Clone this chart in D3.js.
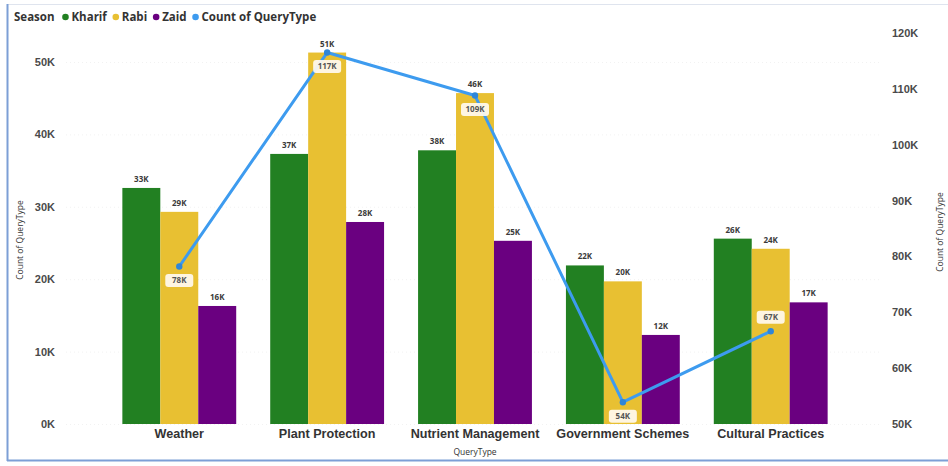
<!DOCTYPE html>
<html>
<head>
<meta charset="utf-8">
<script src="https://cdn.jsdelivr.net/npm/d3@7"></script>
<style>
  html, body { margin: 0; padding: 0; background: #fff; }
  svg { display: block; font-family: "Open Sans", "Noto Sans", sans-serif; }
</style>
</head>
<body>
<svg id="chart" width="948" height="466"></svg>
<script>
// Query counts by type and season (thousands)
const categories = ["Weather", "Plant Protection", "Nutrient Management", "Government Schemes", "Cultural Practices"];
const seasons = ["Kharif", "Rabi", "Zaid"];
const kharif = [32.6, 37.3, 37.8, 21.9, 25.6];
const rabi = [29.3, 51.3, 45.7, 19.7, 24.2];
const zaid = [16.3, 27.9, 25.3, 12.3, 16.8];
const totalCount = [78.2, 116.5, 108.8, 53.9, 66.6];
const leftTicks = [0, 10, 20, 30, 40, 50];
const rightTicks = [50, 60, 70, 80, 90, 100, 110, 120];

const seasonColors = { Kharif: "#228022", Rabi: "#E8C032", Zaid: "#6A0080" };
const lineColor = "#3D9BEF";

const svg = d3.select("#chart");
const W = 948, H = 466;
const plotTop = 33, plotBottom = 424;

// Frame
svg.append("line").attr("x1", 7.5).attr("x2", W).attr("y1", 4.5).attr("y2", 4.5)
  .attr("stroke", "#dfe4ee").attr("stroke-width", 1);
svg.append("line").attr("x1", 7.5).attr("x2", 7.5).attr("y1", 4).attr("y2", 461)
  .attr("stroke", "#7d9fd6").attr("stroke-width", 2);
svg.append("line").attr("x1", 7).attr("x2", W).attr("y1", 460.5).attr("y2", 460.5)
  .attr("stroke", "#7d9fd6").attr("stroke-width", 2);

const x = d3.scaleBand().domain(categories).range([78, 872]).paddingInner(0.23).paddingOuter(0.3);
const xs = d3.scaleBand().domain(seasons).range([0, x.bandwidth()]);
const yL = d3.scaleLinear().domain([0, 54]).range([plotBottom, plotTop]);
const yR = d3.scaleLinear().domain([50, 120]).range([plotBottom, plotTop]);
const fmtK = d => d3.format(".0f")(d) + "K";

// Gridlines
svg.append("g").selectAll("line").data(leftTicks).join("line")
  .attr("x1", 66).attr("x2", 880)
  .attr("y1", d => yL(d) + 0.5).attr("y2", d => yL(d) + 0.5)
  .attr("stroke", "#f2f2f2").attr("stroke-dasharray", "1,3");

// Left axis
const axL = svg.append("g").attr("transform", "translate(57,0)")
  .call(d3.axisLeft(yL).tickValues(leftTicks).tickFormat(fmtK).tickSize(0).tickPadding(2));
axL.select(".domain").remove();
axL.selectAll("text").attr("font-size", 11).attr("font-weight", 700).attr("fill", "#4a4a4a");

// Right axis
const axR = svg.append("g").attr("transform", "translate(890,0)")
  .call(d3.axisRight(yR).tickValues(rightTicks).tickFormat(fmtK).tickSize(0).tickPadding(2));
axR.select(".domain").remove();
axR.selectAll("text").attr("font-size", 11).attr("font-weight", 700).attr("fill", "#4a4a4a");

// Axis titles
svg.append("text").attr("transform", "translate(23,240) rotate(-90)")
  .attr("text-anchor", "middle").attr("font-size", 8.5).attr("fill", "#333")
  .text("Count of QueryType");
svg.append("text").attr("transform", "translate(943,232) rotate(-90)")
  .attr("text-anchor", "middle").attr("font-size", 8.5).attr("fill", "#333")
  .text("Count of QueryType");

// Bars
const seriesValues = { Kharif: kharif, Rabi: rabi, Zaid: zaid };
const barData = [];
categories.forEach((c, i) => seasons.forEach(s => barData.push({ c, s, v: seriesValues[s][i] })));

const bars = svg.append("g");
bars.selectAll("rect").data(barData).join("rect")
  .attr("x", d => x(d.c) + xs(d.s))
  .attr("y", d => yL(d.v))
  .attr("width", xs.bandwidth())
  .attr("height", d => yL(0) - yL(d.v))
  .attr("fill", d => seasonColors[d.s]);

bars.selectAll("text").data(barData).join("text")
  .attr("x", d => x(d.c) + xs(d.s) + xs.bandwidth() / 2)
  .attr("y", d => yL(d.v) - 6)
  .attr("text-anchor", "middle").attr("font-size", 8).attr("font-weight", 700).attr("fill", "#3a3a3a")
  .text(d => Math.round(d.v) + "K");

// X axis labels
const axX = svg.append("g").attr("transform", `translate(0,${plotBottom})`)
  .call(d3.axisBottom(x).tickSize(0).tickPadding(5));
axX.select(".domain").remove();
axX.selectAll("text").attr("font-size", 12.6).attr("font-weight", 700).attr("fill", "#333");
svg.append("text").attr("x", x("Nutrient Management") + x.bandwidth() / 2).attr("y", 455)
  .attr("text-anchor", "middle").attr("font-size", 8.5).attr("fill", "#333").text("QueryType");

// Total count line
const lineData = categories.map((c, i) => ({ c, v: totalCount[i] }));
const lx = d => x(d.c) + x.bandwidth() / 2;
svg.append("path").datum(lineData)
  .attr("d", d3.line().x(lx).y(d => yR(d.v)))
  .attr("fill", "none").attr("stroke", lineColor).attr("stroke-width", 3).attr("stroke-linejoin", "round");
svg.append("g").selectAll("circle").data(lineData).join("circle")
  .attr("cx", lx).attr("cy", d => yR(d.v)).attr("r", 3.2).attr("fill", "#2f86d8");

// Line value labels
const labelAbove = [false, false, false, false, true];
const lbl = svg.append("g").selectAll("g").data(lineData).join("g")
  .attr("transform", (d, i) => `translate(${lx(d)},${yR(d.v) + (labelAbove[i] ? -14 : 14)})`);
lbl.append("rect").attr("x", -14).attr("y", -6.5).attr("width", 28).attr("height", 13).attr("rx", 3)
  .attr("fill", "#fffaf0").attr("fill-opacity", 0.92);
lbl.append("text").attr("text-anchor", "middle").attr("dy", "0.35em")
  .attr("font-size", 8).attr("font-weight", 700).attr("fill", "#555")
  .text(d => Math.round(d.v) + "K");

// Legend
const legend = svg.append("g").attr("transform", "translate(14,17)");
const legendItems = [
  { name: "Kharif", color: seasonColors.Kharif },
  { name: "Rabi", color: seasonColors.Rabi },
  { name: "Zaid", color: seasonColors.Zaid },
  { name: "Count of QueryType", color: lineColor }
];
const title = legend.append("text").attr("y", 4).attr("font-size", 11.5).attr("font-weight", 700).attr("fill", "#333").text("Season");
let cx = title.node().getComputedTextLength() + 8;
legendItems.forEach(item => {
  legend.append("circle").attr("cx", cx + 3).attr("cy", 0).attr("r", 3.3).attr("fill", item.color);
  const t = legend.append("text").attr("x", cx + 9).attr("y", 4)
    .attr("font-size", 11.5).attr("font-weight", 700).attr("fill", "#333").text(item.name);
  cx += 9 + t.node().getComputedTextLength() + 6;
});
</script>
</body>
</html>
